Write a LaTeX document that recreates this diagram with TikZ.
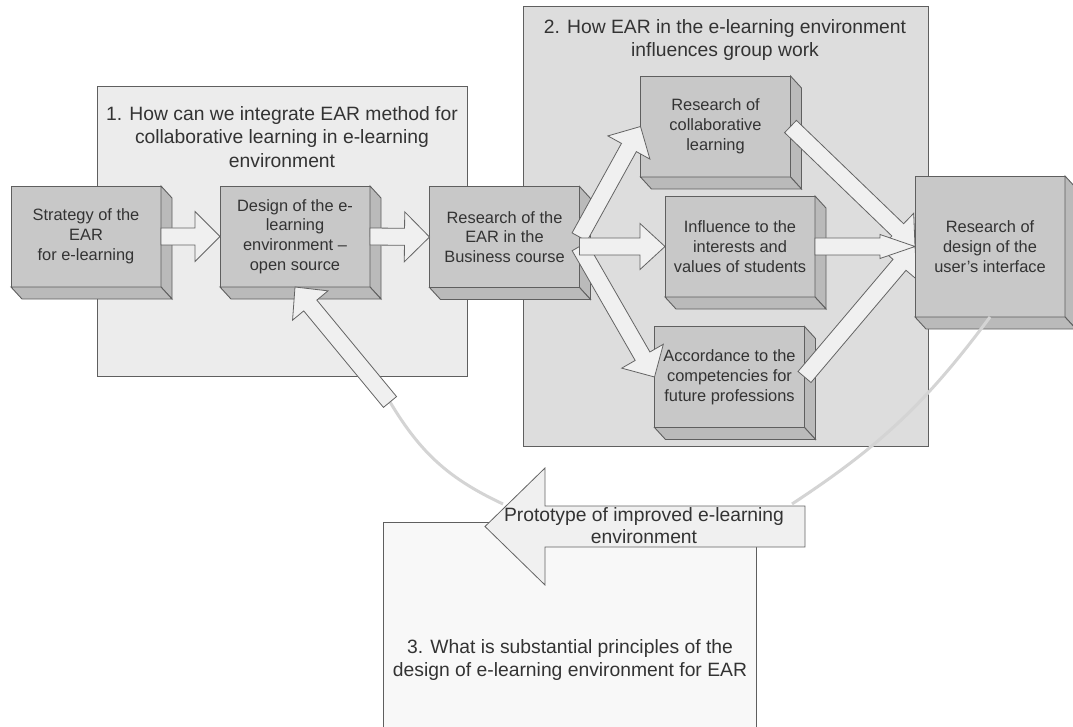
\documentclass[tikz,border=0pt]{standalone}
\usepackage{fontspec}
\setmainfont{Liberation Sans}
\usetikzlibrary{calc}

\definecolor{edgegray}{RGB}{95,95,95}
\definecolor{frontgray}{RGB}{200,200,200}
\definecolor{sidegray}{RGB}{186,186,186}
\definecolor{arrfill}{RGB}{240,240,240}
\definecolor{arrline}{RGB}{100,100,100}
\definecolor{panelA}{RGB}{236,236,236}
\definecolor{panelB}{RGB}{221,221,221}
\definecolor{panelC}{RGB}{248,248,248}
\definecolor{backgray}{RGB}{212,212,212}

\pgfdeclarelayer{front}
\pgfsetlayers{main,front}

% wide arrow: from, to, half shaft, half head, head length
\newcommand{\blockarrow}[5]{%
  \path ($(#2)!#5pt!(#1)$) coordinate (ba-base);
  \draw[blockarr] ($(#1)!#3pt!90:(#2)$) -- ($(ba-base)!#3pt!90:(#2)$)
    -- ($(ba-base)!#4pt!90:(#2)$) -- (#2) -- ($(ba-base)!#4pt!-90:(#2)$)
    -- ($(ba-base)!#3pt!-90:(#2)$) -- ($(#1)!#3pt!-90:(#2)$) -- cycle;
}
% depth of a box
\newcommand{\depth}[1]{%
  \filldraw[boxside] (#1.north east) -- ++(11,12) -- ($(#1.south east)+(11,12)$) -- (#1.south east) -- cycle;
  \filldraw[boxside] (#1.south west) -- ++(11,12) -- ($(#1.south east)+(11,12)$) -- (#1.south east) -- cycle;
}

\begin{document}
\begin{tikzpicture}[x=1pt, y=-1pt,
    panel/.style={draw=edgegray, line width=1pt},
    qtext/.style={align=center, text=black!80, font=\fontsize{19.3}{23.5}\selectfont},
    boxfront/.style={draw=edgegray, fill=frontgray, line width=0.9pt, minimum width=150pt,
      minimum height=101pt, inner sep=0pt, outer sep=0pt, align=center, text=black!80,
      font=\fontsize{16.4}{19.8}\selectfont},
    boxside/.style={draw=edgegray, fill=sidegray, line width=0.9pt},
    blockarr/.style={draw=arrline, fill=arrfill, line width=0.8pt},
    backline/.style={draw=backgray, line width=3pt}]
    \useasboundingbox (0,0) rectangle (1073,727);

    % the three questions
    \draw[panel, fill=panelA] (97,87) rectangle (467,376);
    \draw[panel, fill=panelB] (523,7) rectangle (928,446);
    \draw[panel, fill=panelC] (383,522) rectangle (756,728);
    \node[qtext] (q1) at (282,137) {1. How can we integrate EAR method for\\collaborative learning in e-learning\\environment};
    \node[qtext] (q2) at (725,40) {2. How EAR in the e-learning environment\\influences group work};
    \node[qtext] (q3) at (570,660) {3. What is substantial principles of the\\design of e-learning environment for EAR};

    % way back to the design
    \coordinate (back) at (390,402);
    \coordinate (protoout) at (503,504);
    \draw[backline] (back) to[bend right=17] (protoout);

    % boxes
    \node[boxfront] (strat) at (86,236.5) {Strategy of the\\EAR\\for e-learning};
    \depth{strat}
    \node[boxfront] (design) at (295,236.5) {Design of the e-\\learning\\environment --\\open source};
    \depth{design}
    \node[boxfront] (res) at (504.5,237) {Research of the\\EAR in the\\Business course};
    \depth{res}
    \node[boxfront] (collab) at (715.5,126.5) {Research of\\collaborative\\learning};
    \depth{collab}
    \node[boxfront] (infl) at (740,246.5) {Influence to the\\interests and\\values of students};
    \depth{infl}
    \node[boxfront] (acc) at (729.5,377) {Accordance to the\\competencies for\\future professions};
    \depth{acc}
    \begin{pgfonlayer}{front}
      \node[boxfront, minimum height=141pt] (prod) at (990,246.5) {Research of\\design of the\\user's interface};
      \depth{prod}
    \end{pgfonlayer}

    \coordinate (resout) at (res.east |- infl.west);
    \blockarrow{strat.east}{design.west}{8.5}{25}{25}
    \blockarrow{design.east}{res.west}{8.5}{25}{25}
    \blockarrow{back}{design.south}{8.5}{23}{24}
    \blockarrow{res.east}{collab.west}{8.5}{24}{24}
    \blockarrow{resout}{acc.west}{8.5}{24}{24}
    \blockarrow{resout}{infl.west}{8.5}{23}{25}

    \blockarrow{collab.east}{prod.west}{8.5}{23}{24}
    \blockarrow{acc.east}{prod.west}{8.5}{23}{24}
    \blockarrow{infl.east}{prod.west}{8.5}{12}{35}

    % prototype
    \coordinate (protoR) at (805,526.5);
    \coordinate (protoL) at (485,526.5);
    \coordinate (protoin) at (792,504);
    \begin{pgfonlayer}{front}
      \draw[backline] (prod.south) to[bend left=10] (protoin);
    \end{pgfonlayer}
    \blockarrow{protoR}{protoL}{20.5}{58.5}{60}
    \node[qtext, font=\fontsize{19.3}{22}\selectfont] (proto) at (644,526) {Prototype of improved e-learning\\environment};
\end{tikzpicture}
\end{document}
